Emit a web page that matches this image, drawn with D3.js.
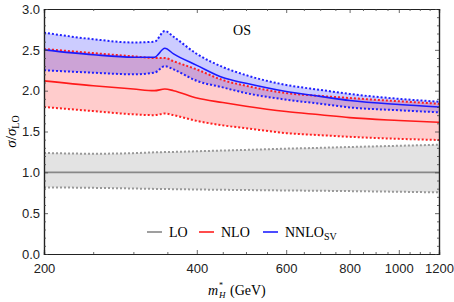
<!DOCTYPE html>
<html>
<head>
<meta charset="utf-8">
<script src="https://cdn.jsdelivr.net/npm/d3@7.9.0/dist/d3.min.js"></script>
<style>
  body { margin: 0; background: #fff; }
  svg { display: block; font-family: "Liberation Serif", "DejaVu Serif", serif; }
  .tick text { font-size: 13px; fill: #222; }
</style>
</head>
<body>
<svg id="chart" width="454" height="302"></svg>
<script>
// mass points (GeV)
const mass = [200, 250, 300, 330, 346, 360, 400, 450, 500, 600, 700, 800, 1000, 1200];

// LO band
const loCentral = [1, 1, 1, 1, 1, 1, 1, 1, 1, 1, 1, 1, 1, 1];
const loUpper = [1.237, 1.228, 1.235, 1.245, 1.248, 1.25, 1.258, 1.267, 1.275, 1.29, 1.30, 1.31, 1.325, 1.338];
const loLower = [0.816, 0.81, 0.802, 0.797, 0.795, 0.794, 0.79, 0.786, 0.783, 0.778, 0.774, 0.77, 0.762, 0.755];

// NLO band
const nloCentral = [2.12, 2.06, 2.02, 2.0, 2.02, 2.0, 1.91, 1.855, 1.81, 1.745, 1.705, 1.67, 1.635, 1.612];
const nloUpper = [2.51, 2.46, 2.42, 2.40, 2.40, 2.36, 2.26, 2.13, 2.06, 1.97, 1.935, 1.91, 1.87, 1.84];
const nloLower = [1.80, 1.75, 1.71, 1.70, 1.72, 1.70, 1.63, 1.575, 1.54, 1.48, 1.455, 1.435, 1.41, 1.396];

// NNLO_SV band
const nnloCentral = [2.50, 2.44, 2.41, 2.41, 2.52, 2.45, 2.31, 2.16, 2.09, 1.99, 1.93, 1.88, 1.83, 1.80];
const nnloUpper = [2.71, 2.63, 2.59, 2.60, 2.73, 2.66, 2.45, 2.29, 2.19, 2.07, 2.01, 1.96, 1.90, 1.865];
const nnloLower = [2.25, 2.22, 2.20, 2.22, 2.30, 2.26, 2.12, 2.04, 1.97, 1.89, 1.84, 1.795, 1.76, 1.735];

const majorX = [200, 400, 600, 800, 1000, 1200];
const minorX = d3.range(250, 1200, 50).filter(v => !majorX.includes(v));
const majorY = [0, 0.5, 1, 1.5, 2, 2.5, 3];
const minorY = d3.range(0, 3.001, 0.1).map(v => +v.toFixed(1)).filter(v => !majorY.includes(v));

const mLeft = 44, mRight = 439, mTop = 9, mBottom = 254;
const svg = d3.select('#chart');
const x = d3.scaleLog().domain([200, 1200]).range([mLeft, mRight]);
const y = d3.scaleLinear().domain([0, 3]).range([mBottom, mTop]);

const series = [
  { name: 'LO', c: loCentral, u: loUpper, l: loLower, line: '#888888', fill: 'rgba(128,128,128,0.22)', dash: '#999999' },
  { name: 'NLO', c: nloCentral, u: nloUpper, l: nloLower, line: '#ff1a1a', fill: 'rgba(255,0,0,0.2)', dash: '#ff2020' },
  { name: 'NNLO', c: nnloCentral, u: nnloUpper, l: nnloLower, line: '#1a1aff', fill: 'rgba(0,0,255,0.2)', dash: '#2020ff' }
];

const curve = d3.curveMonotoneX;
const area = d3.area().x((d, i) => x(mass[i])).curve(curve);
const line = d3.line().x((d, i) => x(mass[i])).curve(curve);

const plot = svg.append('g');
series.forEach(s => {
  plot.append('path')
    .attr('d', area.y0((d, i) => y(s.l[i])).y1((d, i) => y(s.u[i]))(mass))
    .attr('fill', s.fill);
});
series.forEach(s => {
  [s.u, s.l].forEach(arr => {
    plot.append('path')
      .attr('d', line.y((d, i) => y(arr[i]))(mass))
      .attr('fill', 'none')
      .attr('stroke', s.dash)
      .attr('stroke-width', 2)
      .attr('stroke-dasharray', '2,2');
  });
  plot.append('path')
    .attr('d', line.y((d, i) => y(s.c[i]))(mass))
    .attr('fill', 'none')
    .attr('stroke', s.line)
    .attr('stroke-width', 1.6);
});

// frame + ticks (inward)
const gB = svg.append('g').attr('transform', `translate(0,${mBottom})`)
  .call(d3.axisBottom(x).tickValues(majorX).tickFormat(d3.format('d')).tickSize(-4).tickPadding(7));
svg.append('g').attr('transform', `translate(0,${mBottom})`)
  .call(d3.axisBottom(x).tickValues(minorX).tickFormat('').tickSize(-2));
svg.append('g').attr('transform', `translate(0,${mTop})`)
  .call(d3.axisTop(x).tickValues(majorX).tickFormat('').tickSize(-4));
svg.append('g').attr('transform', `translate(0,${mTop})`)
  .call(d3.axisTop(x).tickValues(minorX).tickFormat('').tickSize(-2));
svg.append('g').attr('transform', `translate(${mLeft},0)`)
  .call(d3.axisLeft(y).tickValues(majorY).tickFormat(d3.format('.1f')).tickSize(-4).tickPadding(4));
svg.append('g').attr('transform', `translate(${mLeft},0)`)
  .call(d3.axisLeft(y).tickValues(minorY).tickFormat('').tickSize(-2));
svg.append('g').attr('transform', `translate(${mRight},0)`)
  .call(d3.axisRight(y).tickValues(majorY).tickFormat('').tickSize(-4));
svg.append('g').attr('transform', `translate(${mRight},0)`)
  .call(d3.axisRight(y).tickValues(minorY).tickFormat('').tickSize(-2));
svg.selectAll('.domain').attr('stroke', '#222').attr('stroke-width', 1.2);
svg.selectAll('.tick line').attr('stroke', '#444').attr('stroke-width', 0.8);
gB.selectAll('.tick text').attr('dy', '0.9em');

// OS label
svg.append('text').attr('x', 242).attr('y', 35).attr('text-anchor', 'middle')
  .attr('font-size', 14).text('OS');

// axis titles
const yl = svg.append('text').attr('transform', `translate(16,${(mTop + mBottom) / 2}) rotate(-90)`)
  .attr('text-anchor', 'middle').attr('font-size', 15);
yl.append('tspan').attr('font-style', 'italic').text('σ');
yl.append('tspan').text('/');
yl.append('tspan').attr('font-style', 'italic').text('σ');
yl.append('tspan').attr('font-size', 10).attr('dy', 3).text('LO');

// x title: m*_H (GeV)
const xlY = 295;
svg.append('text').attr('x', 208).attr('y', xlY).attr('font-size', 14).attr('font-style', 'italic').text('m');
svg.append('text').attr('x', 219).attr('y', xlY - 7).attr('font-size', 8).text('*');
svg.append('text').attr('x', 219).attr('y', xlY + 3).attr('font-size', 9).attr('font-style', 'italic').text('H');
svg.append('text').attr('x', 230).attr('y', xlY).attr('font-size', 14).text('(GeV)');

// legend
const legY = 232;
const legend = [
  { label: 'LO', color: '#888888', x0: 147 },
  { label: 'NLO', color: '#ff2020', x0: 199 },
  { label: 'NNLO', color: '#2020ff', x0: 263, sub: 'SV' }
];
legend.forEach(d => {
  svg.append('line').attr('x1', d.x0).attr('x2', d.x0 + 15).attr('y1', legY).attr('y2', legY)
    .attr('stroke', d.color).attr('stroke-width', 1.6);
  const t = svg.append('text').attr('x', d.x0 + 22).attr('y', legY + 5).attr('font-size', 14).text(d.label);
  if (d.sub) t.append('tspan').attr('font-size', 10).attr('dy', 3).text(d.sub);
});
</script>
</body>
</html>
